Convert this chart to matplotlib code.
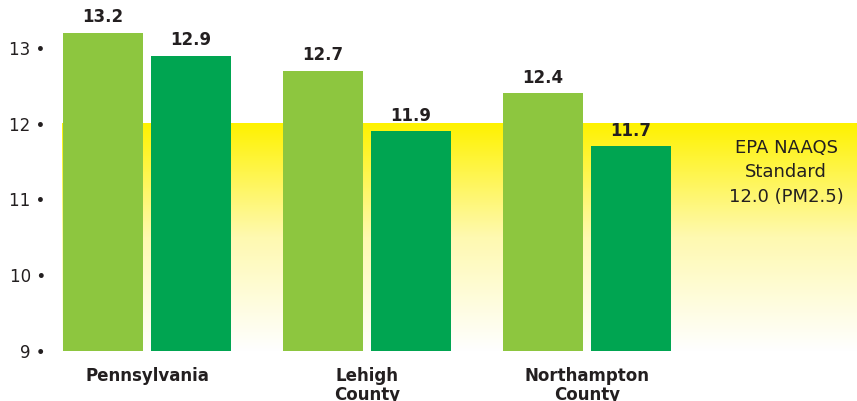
import matplotlib
matplotlib.use("Agg")
import matplotlib.pyplot as plt
import numpy as np
from matplotlib.colors import LinearSegmentedColormap

categories = ["Pennsylvania", "Lehigh\nCounty", "Northampton\nCounty"]
series_a = [13.2, 12.7, 12.4]
series_b = [12.9, 11.9, 11.7]
yticks = [9, 10, 11, 12, 13]
baseline = 9
standard = 12.0
standard_label = "EPA NAAQS\nStandard\n12.0 (PM2.5)"

light = "#8DC63F"
dark = "#00A551"
txt = "#231F20"

plt.rcParams["font.family"] = ["DejaVu Sans"]

fig = plt.figure(figsize=(8.57, 4.01), dpi=100)
left_px = 50
ax = fig.add_axes([left_px / 857, 0, 1 - left_px / 857, 1])

px_per_unit = 220.0
x0_px = 147.0  # pixel of first group center
xmin = -(x0_px - left_px) / px_per_unit
xmax = (857 - x0_px) / px_per_unit
ax.set_xlim(xmin, xmax)
ax.set_ylim(9 - 50 / 75.75, 9 + 351 / 75.75)

# gradient band
cmap = LinearSegmentedColormap.from_list("yg", ["#FFFFFF", "#FEF9B0", "#FFF200"])
grad = np.linspace(0, 1, 256).reshape(-1, 1)
band_left = (62 - x0_px) / px_per_unit
ax.imshow(grad, extent=[band_left, xmax, baseline, standard], origin="lower",
          aspect="auto", cmap=cmap, zorder=0)

x = np.arange(len(categories))
off = 44 / px_per_unit
w = 80 / px_per_unit
ax.bar(x - off, np.array(series_a) - baseline, width=w, bottom=baseline, color=light, zorder=2)
ax.bar(x + off, np.array(series_b) - baseline, width=w, bottom=baseline, color=dark, zorder=2)

for xi, v in zip(x - off, series_a):
    ax.text(xi, v + 0.09, f"{v:.1f}", ha="center", va="bottom",
            fontsize=12, fontweight="bold", color=txt, zorder=3)
for xi, v in zip(x + off, series_b):
    ax.text(xi, v + 0.09, f"{v:.1f}", ha="center", va="bottom",
            fontsize=12, fontweight="bold", color=txt, zorder=3)

for xi, c in zip(x, categories):
    ax.text(xi, 9 - 16 / 75.75, c, ha="center", va="top", fontsize=12,
            fontweight="bold", color=txt, linespacing=1.1)

ax.text((786 - x0_px) / px_per_unit, 11.36, standard_label, ha="center",
        va="center", fontsize=13, color=txt, linespacing=1.45, zorder=3)

ax.set_yticks(yticks)
ax.set_yticklabels([f"{t} \u2022" for t in yticks], fontsize=12, color=txt)
ax.tick_params(axis="y", length=0, pad=3)
ax.set_xticks([])
for s in ax.spines.values():
    s.set_visible(False)
ax.set_facecolor("white")

fig.savefig("out.png", dpi=100)
